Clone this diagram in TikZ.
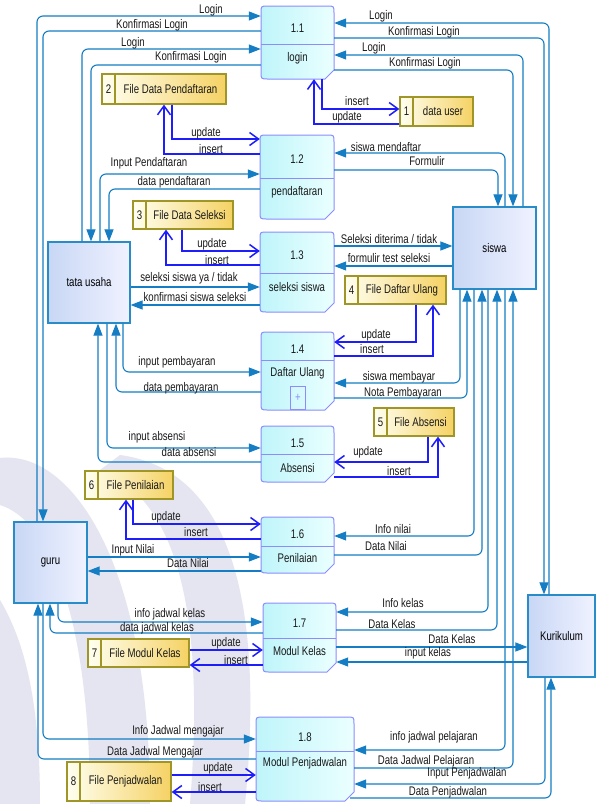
\documentclass[tikz,border=0pt]{standalone}
\usepackage{fontspec}
\setmainfont{Liberation Sans}[FakeStretch=0.77]
\usetikzlibrary{arrows.meta}
\definecolor{flowc}{RGB}{20,125,195}
\definecolor{storec}{RGB}{30,30,250}
\definecolor{procb}{RGB}{140,140,255}
\definecolor{procl}{RGB}{190,245,250}
\definecolor{procr}{RGB}{235,255,255}
\definecolor{entb}{RGB}{40,140,200}
\definecolor{entl}{RGB}{200,215,245}
\definecolor{entr}{RGB}{240,242,255}
\definecolor{stob}{RGB}{160,150,40}
\definecolor{stol}{RGB}{255,255,240}
\definecolor{stor}{RGB}{245,210,100}
\definecolor{wmark}{RGB}{228,229,240}
\tikzset{
 lbl/.style={font=\fontsize{12.5}{13}\selectfont, inner sep=0pt, text=black!90},
 flow/.style={draw=flowc, line width=1.1pt, rounded corners=6pt, -{Triangle[length=12pt,width=9pt]}},
 sflow/.style={draw=storec, line width=1.5pt, -{Straight Barb[length=9pt,width=13pt]}},
 ent/.style={draw=entb, line width=1.2pt, left color=entl, right color=entr, inner sep=0pt, font=\fontsize{12.5}{13}\selectfont},
 procshape/.style={draw=procb, line width=1pt, left color=procl, right color=procr},
 stoshape/.style={draw=stob, line width=1.2pt, left color=stol, right color=stor},
}
\newcommand\proc[9]{%
 \node[inner sep=0pt, minimum width={(#4-#2)*1pt}, minimum height={(#5-#3)*1pt}] (#1) at ({(#2+#4)/2},{(#3+#5)/2}) {};
 \path[procshape] ({#2+7},#3) -- ({#4-7},#3) .. controls (#4,#3) .. (#4,{#3+7}) -- (#4,{#5-9}) -- ({#4-9},#5) -- ({#2+7},#5) .. controls (#2,#5) .. (#2,{#5-7}) -- (#2,{#3+7}) .. controls (#2,#3) .. ({#2+7},#3) -- cycle;
 \draw[procb, line width=1pt] (#2,#6) -- (#4,#6);
 \node[lbl] (#1n) at ({(#2+#4)/2},{(#3+#6)/2+3}) {#7};
 \node[lbl] (#1l) at ({(#2+#4)/2},#9) {#8};
}
\newcommand\sto[7]{%
 \node[stoshape, inner sep=0pt, minimum width={(#4-#2)*1pt}, minimum height={(#5-#3)*1pt}] (#1) at ({(#2+#4)/2},{(#3+#5)/2}) {};
 \draw[stob, line width=1.2pt] ({#2+13},#3) -- ({#2+13},#5);
 \node[lbl] (#1n) at ({#2+6.5},{(#3+#5)/2}) {#6};
 \node[lbl] (#1l) at ({(#2+13+#4)/2},{(#3+#5)/2}) {#7};
}
\begin{document}
\begin{tikzpicture}[x=1pt,y=-1pt]
\useasboundingbox (0,0) rectangle (600,804);
\fill[white] (0,0) rectangle (600,804);
% watermark
\fill[wmark] (120,455) .. controls (230,470) and (265,600) .. (245,804) -- (190,804) .. controls (205,620) and (180,500) .. (100,470) -- cycle;
\fill[wmark] (0,458) .. controls (70,450) and (150,560) .. (150,804) -- (90,804) .. controls (90,620) and (50,520) .. (0,505) -- cycle;
\fill[wmark] (0,600) .. controls (30,650) and (40,720) .. (40,804) -- (0,804) -- cycle;
% entities
\node[ent, minimum width=82pt, minimum height=81pt] (tu) at (89,282.5) {tata usaha};
\node[ent, minimum width=83pt, minimum height=82pt] (sis) at (494.5,248) {siswa};
\node[ent, minimum width=73pt, minimum height=81pt] (guru) at (50.5,562.5) {guru};
\node[ent, minimum width=67pt, minimum height=82pt] (kur) at (561.5,636) {Kurikulum};
% processes
\proc{p11}{261}{6}{334}{79}{44}{1.1}{login}{58}
\proc{p12}{260}{135}{334}{219}{178}{1.2}{pendaftaran}{192}
\proc{p13}{260}{232}{334}{312}{273}{1.3}{seleksi siswa}{287}
\proc{p14}{261}{332}{334}{410}{360}{1.4}{Daftar Ulang}{373}
\proc{p15}{261}{426}{334}{482}{454}{1.5}{Absensi}{468}
\proc{p16}{261}{517}{334}{573}{546}{1.6}{Penilaian}{558}
\proc{p17}{263}{603}{336}{672}{638}{1.7}{Modul Kelas}{651}
\proc{p18}{256}{717}{354}{801}{751}{1.8}{Modul Penjadwalan}{763}
\node[draw=procb, line width=0.8pt, minimum width=15pt, minimum height=23pt, inner sep=0pt, lbl, text=procb] (p14plus) at (298,397.5) {+};
% stores
\sto{s2}{102}{74}{226}{104}{2}{File Data Pendaftaran}
\sto{s1}{400}{97}{473}{126}{1}{data user}
\sto{s3}{133}{201}{233}{229}{3}{File Data Seleksi}
\sto{s4}{345}{276}{446}{304}{4}{File Daftar Ulang}
\sto{s5}{374}{408}{454}{436}{5}{File Absensi}
\sto{s6}{85}{471}{173}{499}{6}{File Penilaian}
\sto{s7}{88}{639}{189}{667}{7}{File Modul Kelas}
\sto{s8}{67}{762}{171}{801}{8}{File Penjadwalan}
% flows: login
\draw[flow] (guru.north -| 37,0) |- (p11.west |- 0,16);
\draw[flow] (p11.west |- 0,31) -| (guru.north -| 43,0);
\draw[flow] (tu.north -| 82,0) |- (p11.west |- 0,49);
\draw[flow] (p11.west |- 0,65) -| (tu.north -| 91,0);
\draw[flow] (kur.north -| 549,0) |- (p11.east |- 0,23);
\draw[flow] (p11.east |- 0,38) -| (kur.north -| 544,0);
\draw[flow] (sis.north -| 523,0) |- (p11.east |- 0,55);
\draw[flow] (p11.east |- 0,70) -| (sis.north -| 513,0);
\draw[sflow] (p11.south -| 322,0) |- (s1.west |- 0,109);
\draw[sflow] (s1.west |- 0,124) -| (p11.south -| 314,0);
% pendaftaran
\draw[flow] (tu.north -| 100,0) |- (p12.west |- 0,174);
\draw[flow] (p12.west |- 0,189) -| (tu.north -| 109,0);
\draw[flow] (sis.north -| 505,0) |- (p12.east |- 0,153);
\draw[flow] (p12.east |- 0,170) -| (sis.north -| 498,0);
\draw[sflow] (s2.south -| 172,0) |- (p12.west |- 0,139);
\draw[sflow] (p12.west |- 0,154) -| (s2.south -| 164,0);
% seleksi
\draw[flow] (tu.east |- 0,287) -- (p13.west |- 0,287);
\draw[flow] (p13.west |- 0,305) -- (tu.east |- 0,305);
\draw[flow] (p13.east |- 0,246) -- (sis.west |- 0,246);
\draw[flow] (sis.west |- 0,266) -- (p13.east |- 0,266);
\draw[sflow] (s3.south -| 182,0) |- (p13.west |- 0,251);
\draw[sflow] (p13.west |- 0,265) -| (s3.south -| 166,0);
% daftar ulang
\draw[flow] (tu.south -| 123,0) |- (p14.west |- 0,372);
\draw[flow] (p14.west |- 0,392) -| (tu.south -| 116,0);
\draw[flow] (sis.south -| 460,0) |- (p14.east |- 0,383);
\draw[flow] (p14.east |- 0,398) -| (sis.south -| 467,0);
\draw[sflow] (s4.south -| 416,0) |- (p14.east |- 0,342);
\draw[sflow] (p14.east |- 0,356) -| (s4.south -| 433,0);
% absensi
\draw[flow] (tu.south -| 107,0) |- (p15.west |- 0,448);
\draw[flow] (p15.west |- 0,462) -| (tu.south -| 98,0);
\draw[sflow] (s5.south -| 428,0) |- (p15.east |- 0,462);
\draw[sflow] (p15.east |- 0,477) -| (s5.south -| 438,0);
% penilaian
\draw[flow] (guru.east |- 0,557) -- (p16.west |- 0,557);
\draw[flow] (p16.west |- 0,571) -- (guru.east |- 0,571);
\draw[flow] (sis.south -| 474,0) |- (p16.east |- 0,536);
\draw[flow] (p16.east |- 0,555) -| (sis.south -| 482,0);
\draw[sflow] (s6.south -| 133,0) |- (p16.west |- 0,524);
\draw[sflow] (p16.west |- 0,539) -| (s6.south -| 126,0);
% modul kelas
\draw[flow] (guru.south -| 58,0) |- (p17.west |- 0,622);
\draw[flow] (p17.west |- 0,633) -| (guru.south -| 50,0);
\draw[flow] (sis.south -| 488,0) |- (p17.east |- 0,612);
\draw[flow] (p17.east |- 0,630) -| (sis.south -| 497,0);
\draw[flow] (p17.east |- 0,647) -- (kur.west |- 0,647);
\draw[flow] (kur.west |- 0,662) -- (p17.east |- 0,662);
\draw[sflow] (s7.east |- 0,650) -- (p17.west |- 0,650);
\draw[sflow] (p17.west |- 0,665) -- (s7.east |- 0,665);
% penjadwalan
\draw[flow] (guru.south -| 43,0) |- (p18.west |- 0,739);
\draw[flow] (p18.west |- 0,759) -| (guru.south -| 38,0);
\draw[flow] (sis.south -| 505,0) |- (p18.east |- 0,750);
\draw[flow] (p18.east |- 0,768) -| (sis.south -| 513,0);
\draw[flow] (kur.south -| 545,0) |- (p18.east |- 0,784);
\coordinate (p18out) at (350,798);
\draw[flow] (p18out) -| (kur.south -| 551,0);
\draw[sflow] (s8.east |- 0,775) -- (p18.west |- 0,775);
\draw[sflow] (p18.west |- 0,792) -- (s8.east |- 0,792);
% labels
\node[lbl] (L1) at (211,10) {Login};
\node[lbl] (L2) at (152,25) {Konfirmasi Login};
\node[lbl] (L3) at (133,43) {Login};
\node[lbl] (L4) at (191,57) {Konfirmasi Login};
\node[lbl] (L5) at (381,16) {Login};
\node[lbl] (L6) at (424,32) {Konfirmasi Login};
\node[lbl] (L7) at (374,48) {Login};
\node[lbl] (L8) at (425,63) {Konfirmasi Login};
\node[lbl] (L9) at (357,101) {insert};
\node[lbl] (L10) at (347,117) {update};
\node[lbl] (L11) at (149,163) {Input Pendaftaran};
\node[lbl] (L12) at (174,182) {data pendaftaran};
\node[lbl] (L13) at (386,147) {siswa mendaftar};
\node[lbl] (L14) at (427,161) {Formulir};
\node[lbl] (L15) at (206,133) {update};
\node[lbl] (L16) at (211,149) {insert};
\node[lbl] (L17) at (189,278) {seleksi siswa ya / tidak};
\node[lbl] (L18) at (195,297) {konfirmasi siswa seleksi};
\node[lbl] (L19) at (389,239) {Seleksi diterima / tidak};
\node[lbl] (L20) at (389,258) {formulir test seleksi};
\node[lbl] (L21) at (212,244) {update};
\node[lbl] (L22) at (217,260) {insert};
\node[lbl] (L23) at (177,362) {input pembayaran};
\node[lbl] (L24) at (181,388) {data pembayaran};
\node[lbl] (L25) at (399,377) {siswa membayar};
\node[lbl] (L26) at (403,393) {Nota Pembayaran};
\node[lbl] (L27) at (376,335) {update};
\node[lbl] (L28) at (372,349) {insert};
\node[lbl] (L29) at (157,437) {input absensi};
\node[lbl] (L30) at (189,452) {data absensi};
\node[lbl] (L31) at (368,452) {update};
\node[lbl] (L32) at (399,471) {insert};
\node[lbl] (L33) at (133,550) {Input Nilai};
\node[lbl] (L34) at (188,563) {Data Nilai};
\node[lbl] (L35) at (393,529) {Info nilai};
\node[lbl] (L36) at (386,546) {Data Nilai};
\node[lbl] (L37) at (166,517) {update};
\node[lbl] (L38) at (196,532) {insert};
\node[lbl] (L39) at (170,614) {info jadwal kelas};
\node[lbl] (L40) at (157,628) {data jadwal kelas};
\node[lbl] (L41) at (403,603) {Info kelas};
\node[lbl] (L42) at (392,624) {Data Kelas};
\node[lbl] (L43) at (452,639) {Data Kelas};
\node[lbl] (L44) at (428,653) {input kelas};
\node[lbl] (L45) at (226,643) {update};
\node[lbl] (L46) at (236,660) {insert};
\node[lbl] (L47) at (178,731) {Info Jadwal mengajar};
\node[lbl] (L48) at (155,752) {Data Jadwal Mengajar};
\node[lbl] (L49) at (434,737) {info jadwal pelajaran};
\node[lbl] (L50) at (426,761) {Data Jadwal Pelajaran};
\node[lbl] (L51) at (467,773) {Input Penjadwalan};
\node[lbl] (L52) at (448,792) {Data Penjadwalan};
\node[lbl] (L53) at (218,768) {update};
\node[lbl] (L54) at (210,787) {insert};
\end{tikzpicture}
\end{document}
